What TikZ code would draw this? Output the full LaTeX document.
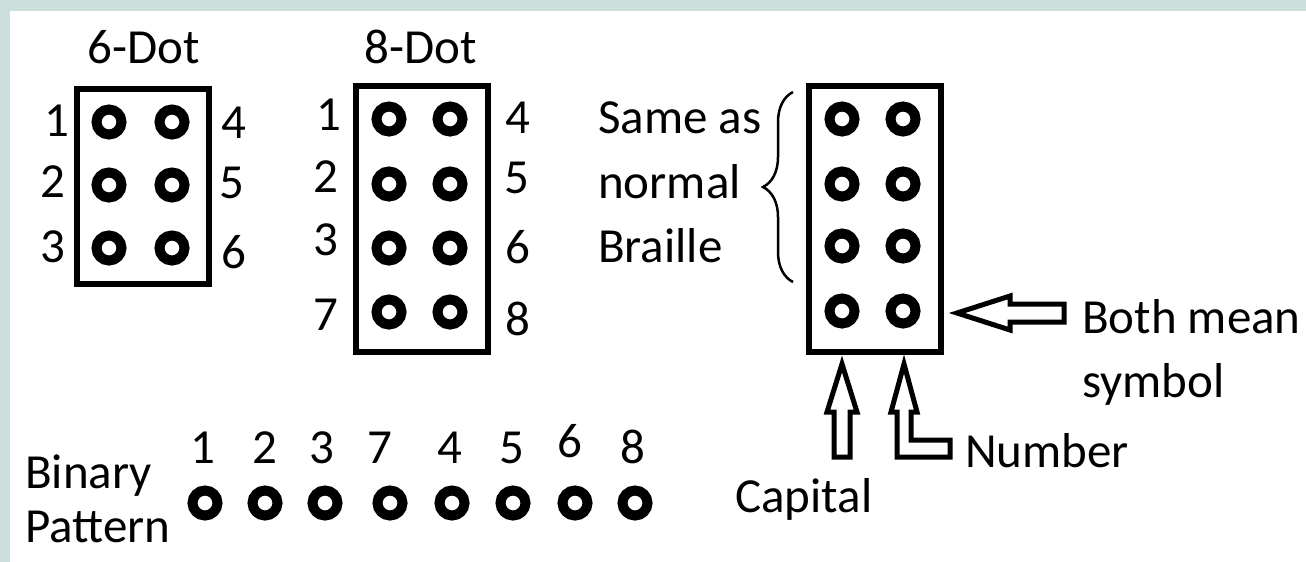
\documentclass[tikz,border=0pt]{standalone}
\usepackage{fontspec}
\setmainfont{Carlito}
\usetikzlibrary{decorations.pathreplacing}
\definecolor{bgteal}{HTML}{CDDFDD}
\definecolor{ink}{HTML}{000000}

\tikzset{
  brdot/.style={circle, draw=ink, line width=10pt, minimum size=25pt, inner sep=0pt},
  brbox/.style={draw=ink, line width=6pt, minimum width=132pt, inner sep=0pt},
  txt/.style={font=\fontsize{49}{59}\selectfont, inner sep=0pt, text=ink},
  hollow/.style={draw=ink, line width=5pt, fill=white, line join=miter}
}

\begin{document}
\begin{tikzpicture}[x=1pt, y=-1pt]
    \useasboundingbox (0,0) rectangle (1306,562);
    \fill[bgteal] (0,0) rectangle (1306,562);
    \fill[white] (10,11) rectangle (1306,562);
    % 6-dot cell
    \node[brbox, minimum height=195pt] (box6) at (143,186.5) {};
    \node[txt, anchor=base] (title6) at (144,63) {6-Dot};
    \foreach \y [count=\i] in {122,185,248} {
      \node[brdot] (sa\i) at (109,\y) {};
      \node[brdot] (sb\i) at (172,\y) {};
    }
    \foreach \n/\x/\y in {1/57/136, 2/53/197, 3/53/262, 4/234/138, 5/232/198, 6/234/268}
      \node[txt, anchor=base] (num6-\n) at (\x,\y) {\n};
    % 8-dot cell
    \node[brbox, minimum height=266pt] (box8) at (422,219) {};
    \node[txt, anchor=base] (title8) at (421,63) {8-Dot};
    \foreach \y [count=\i] in {119,184,248,312} {
      \node[brdot] (ea\i) at (389,\y) {};
      \node[brdot] (eb\i) at (450,\y) {};
    }
    \foreach \n/\x/\y in {1/329/130, 2/326/192, 3/326/255, 7/326/330, 4/518/133, 5/517/193, 6/518/263, 8/518/335}
      \node[txt, anchor=base] (num8-\n) at (\x,\y) {\n};
    % explained cell
    \node[brbox, minimum height=266pt] (boxx) at (875,219) {};
    \foreach \y [count=\i] in {119,184,246,311} {
      \node[brdot] (xa\i) at (842,\y) {};
      \node[brdot] (xb\i) at (903,\y) {};
    }
    \draw[ink, line width=2.5pt, decorate, decoration={brace, amplitude=30pt}] (793,282) -- (793,92);
    \node[txt, anchor=base west] (same) at (598,133) {Same as};
    \node[txt, anchor=base west] (normal) at (598,198) {normal};
    \node[txt, anchor=base west] (braille) at (598,262) {Braille};
    % hollow arrows
    \draw[hollow] (957,313) -- (1010,296) -- (1010,304) -- (1064,304) -- (1064,322)
      -- (1010,322) -- (1010,330) -- cycle;
    \draw[hollow] (842,364) -- (857,412) -- (850,412) -- (850,457) -- (834,457)
      -- (834,412) -- (827,412) -- cycle;
    \draw[hollow] (904,364) -- (917,412) -- (911,412) -- (911,440) -- (950,440)
      -- (950,457) -- (897,457) -- (897,412) -- (891,412) -- cycle;
    \node[txt, anchor=base west] (both) at (1082,333) {Both mean};
    \node[txt, anchor=base west] (symbol) at (1082,397) {symbol};
    \node[txt, anchor=base west] (number) at (965,467) {Number};
    \node[txt, anchor=base west] (capital) at (735,512) {Capital};
    % binary pattern
    \node[txt, anchor=base west] (binary) at (25,488) {Binary};
    \node[txt, anchor=base west] (pattern) at (25,542) {Pattern};
    \foreach \x [count=\i] in {205,265,325,390,452,513,575,635}
      \node[brdot] (bp\i) at (\x,503) {};
    \foreach \n/\x/\y in {1/203/463, 2/265/463, 3/322/463, 7/380/463, 4/450/463, 5/512/463, 6/570/457, 8/633/463}
      \node[txt, anchor=base] (bnum-\n) at (\x,\y) {\n};
\end{tikzpicture}
\end{document}
